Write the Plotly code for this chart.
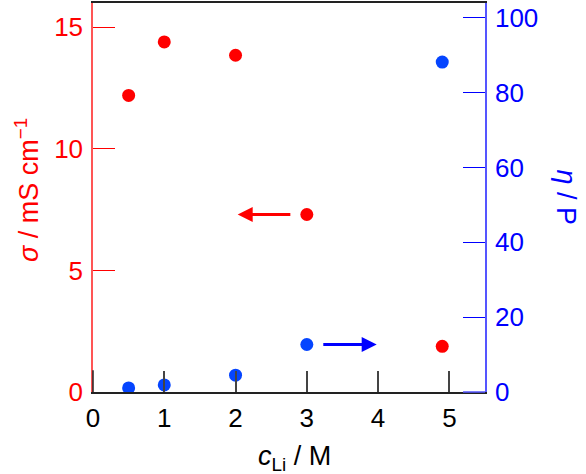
import plotly.graph_objects as go

# Data
c_li = [0.5, 1.0, 2.0, 3.0, 4.9]
sigma = [12.2, 14.4, 13.85, 7.3, 1.88]      # mS cm^-1 (left axis)
eta = [1.1, 1.9, 4.5, 12.7, 88.2]            # P (right axis)

x_ticks = [0, 1, 2, 3, 4, 5]
y_ticks = [0, 5, 10, 15]
y2_ticks = [0, 20, 40, 60, 80, 100]

# arrows: (tail x, head x, y)
red_arrow = (2.79, 2.03, 7.3)
blue_arrow = (3.21, 3.98, 12.7)

RED = "#ff0000"
BLUE = "#0000ff"
MBLUE = "#0545ff"
FONT = "Liberation Sans, Arial, sans-serif"
FS = 26
TS = 27

fig = go.Figure()
fig.add_trace(go.Scatter(x=c_li, y=sigma, mode="markers",
                         marker=dict(color=RED, size=13), yaxis="y", showlegend=False))
fig.add_trace(go.Scatter(x=c_li, y=eta, mode="markers",
                         marker=dict(color=MBLUE, size=13), yaxis="y2", showlegend=False))

fig.update_layout(
    width=586, height=474,
    margin=dict(l=93, r=101, t=1, b=82),
    plot_bgcolor="white", paper_bgcolor="white",
    font=dict(family=FONT, size=FS, color="black"),
    xaxis=dict(range=[0, 5.5], tickvals=x_ticks, ticks="inside", ticklen=21,
               tickcolor="#444444", tickwidth=1.5, showline=True, linecolor="#222222",
               linewidth=1.5, mirror=True, showgrid=False, zeroline=False,
               ticklabelstandoff=2,
               tickfont=dict(size=FS, color="black")),
    yaxis=dict(range=[0, 16], tickvals=y_ticks, ticks="inside", ticklen=22,
               tickcolor=RED, tickwidth=1, showline=True, linecolor="#ff5555",
               linewidth=1.5, showgrid=False, zeroline=False,
               ticklabelstandoff=3,
               tickfont=dict(size=FS, color=RED)),
    yaxis2=dict(range=[0, 104], tickvals=y2_ticks, ticks="inside", ticklen=22,
                tickcolor=BLUE, tickwidth=1, showline=True, linecolor="#5555ff",
                linewidth=1.5, showgrid=False, zeroline=False, overlaying="y",
                side="right", ticklabelstandoff=3,
                tickfont=dict(size=FS, color=BLUE)),
)

fig.add_annotation(x=red_arrow[1], y=red_arrow[2], ax=red_arrow[0], ay=red_arrow[2],
                   xref="x", yref="y", axref="x", ayref="y", showarrow=True,
                   arrowhead=2, arrowsize=1, arrowwidth=3, arrowcolor=RED, text="")
fig.add_annotation(x=blue_arrow[1], y=blue_arrow[2], ax=blue_arrow[0], ay=blue_arrow[2],
                   xref="x", yref="y2", axref="x", ayref="y2", showarrow=True,
                   arrowhead=2, arrowsize=1, arrowwidth=3, arrowcolor=BLUE, text="")

fig.add_annotation(text="<i>σ</i> / mS cm<sup>−1</sup>", textangle=-90,
                   xref="paper", yref="paper", x=-0.17, y=0.52,
                   xanchor="center", yanchor="middle", showarrow=False,
                   font=dict(size=TS, color=RED))
fig.add_annotation(text="<i>η</i> / P", textangle=90,
                   xref="paper", yref="paper", x=1.209, y=0.50,
                   xanchor="center", yanchor="middle", showarrow=False,
                   font=dict(size=TS, color=BLUE))
fig.add_annotation(text="<i>c</i><sub>Li</sub> / M",
                   xref="paper", yref="paper", x=0.515, y=-0.17,
                   xanchor="center", yanchor="middle", showarrow=False,
                   font=dict(size=TS, color="black"))

# frame details: black corner segment on left, blue segment on bottom right
fig.add_shape(type="line", xref="paper", yref="paper", x0=0, x1=0, y0=0, y1=0.056,
              line=dict(color="#222222", width=1.5), layer="above")
fig.add_shape(type="line", xref="paper", yref="paper", x0=0.944, x1=1, y0=0, y1=0,
              line=dict(color="#5555ff", width=1.5), layer="above")

fig.write_html("out.html")
